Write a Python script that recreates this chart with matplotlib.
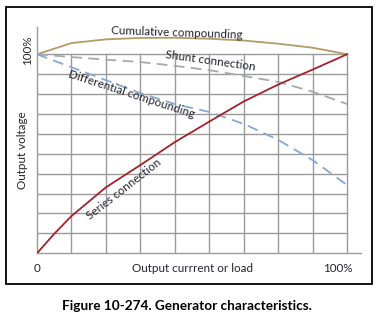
import numpy as np
import matplotlib.pyplot as plt
from matplotlib.patches import Rectangle

plt.rcParams['font.family'] = ['Lato', 'DejaVu Sans']

# data (x = % of full load, y = % of rated voltage)
load = [0, 11.1, 22.2, 33.3, 44.4, 55.6, 66.7, 77.8, 88.9, 100]
cumulative = [100, 105.6, 107.5, 108.2, 108.3, 107.8, 106.9, 105.3, 103.3, 100]
shunt = [100, 98.6, 97.3, 96.1, 94.2, 92, 89.1, 86.1, 81.2, 75]
differential = [100, 93.5, 87, 80.5, 75, 71, 65, 57, 46.8, 34.3]
series_load = [0, 5.5, 11.1, 22.2, 33.3, 44.4, 55.6, 66.7, 77.8, 88.9, 100]
series = [0, 9.7, 18.7, 33.1, 44.3, 55.8, 66.2, 76.3, 84.8, 92.3, 100]

txt = '#23232e'
grid_c = '#9a9a9a'

fig = plt.figure(figsize=(3.81, 3.23), dpi=100)
ax = fig.add_axes([37/381, 1 - 253.3/323, (361-37)/381, (253.3-27)/323])
ax.set_xlim(0, 104.5)
ax.set_ylim(0, 113.7)

# grid
for k in range(1, 10):
    ax.plot([k*100/9, k*100/9], [0, 100], color=grid_c, lw=1.0, zorder=1)
for k in range(1, 11):
    ax.plot([0, 100], [k*10, k*10], color=grid_c, lw=1.0, zorder=1)

for s in ['top', 'right']:
    ax.spines[s].set_visible(False)
for s in ['left', 'bottom']:
    ax.spines[s].set_color(grid_c)
    ax.spines[s].set_linewidth(1.0)
ax.set_xticks([])
ax.set_yticks([])

ax.plot(load, cumulative, color='#b39b68', lw=1.3, zorder=3)
ax.plot(load, shunt, color='#a4aca4', lw=1.3, dashes=(6, 3.5), zorder=3)
ax.plot(load, differential, color='#85a8d8', lw=1.3, dashes=(6, 3.5), zorder=3)
ax.plot(series_load, series, color='#a3222b', lw=1.3, zorder=3)

fs = 8.4
ax.text(45, 110.8, 'Cumulative compounding', color=txt, fontsize=fs,
        ha='center', va='center', rotation=-2)
ax.text(56, 96.5, 'Shunt connection', color=txt, fontsize=fs,
        ha='center', va='center', rotation=-8)
ax.text(30.5, 80, 'Differential compounding', color=txt, fontsize=fs,
        ha='center', va='center', rotation=-18)
ax.text(28, 32, 'Series connection', color=txt, fontsize=fs,
        ha='center', va='center', rotation=38)

fig.text(23/381, 1 - 150/323, 'Output voltage', color=txt, fontsize=fs,
         ha='center', va='center', rotation=90)
fig.text(28/381, 1 - 50/323, '100%', color=txt, fontsize=fs,
         ha='center', va='center', rotation=90)
fig.text(37/381, 1 - 268/323, '0', color=txt, fontsize=fs,
         ha='center', va='center')
fig.text(192/381, 1 - 268/323, 'Output currrent or load', color=txt,
         fontsize=fs, ha='center', va='center')
fig.text(338/381, 1 - 268/323, '100%', color=txt, fontsize=fs,
         ha='center', va='center')

fig.text(187/381, 1 - 306/323, 'Figure 10-274. Generator characteristics.',
         color='black', fontsize=9.8, fontweight='bold', ha='center', va='center')

fig.patches.append(Rectangle((6/381, 1 - 284/323), 366/381, 277/323,
                             transform=fig.transFigure, fill=False,
                             edgecolor='black', lw=1.3))

fig.savefig('out.png', dpi=100)
